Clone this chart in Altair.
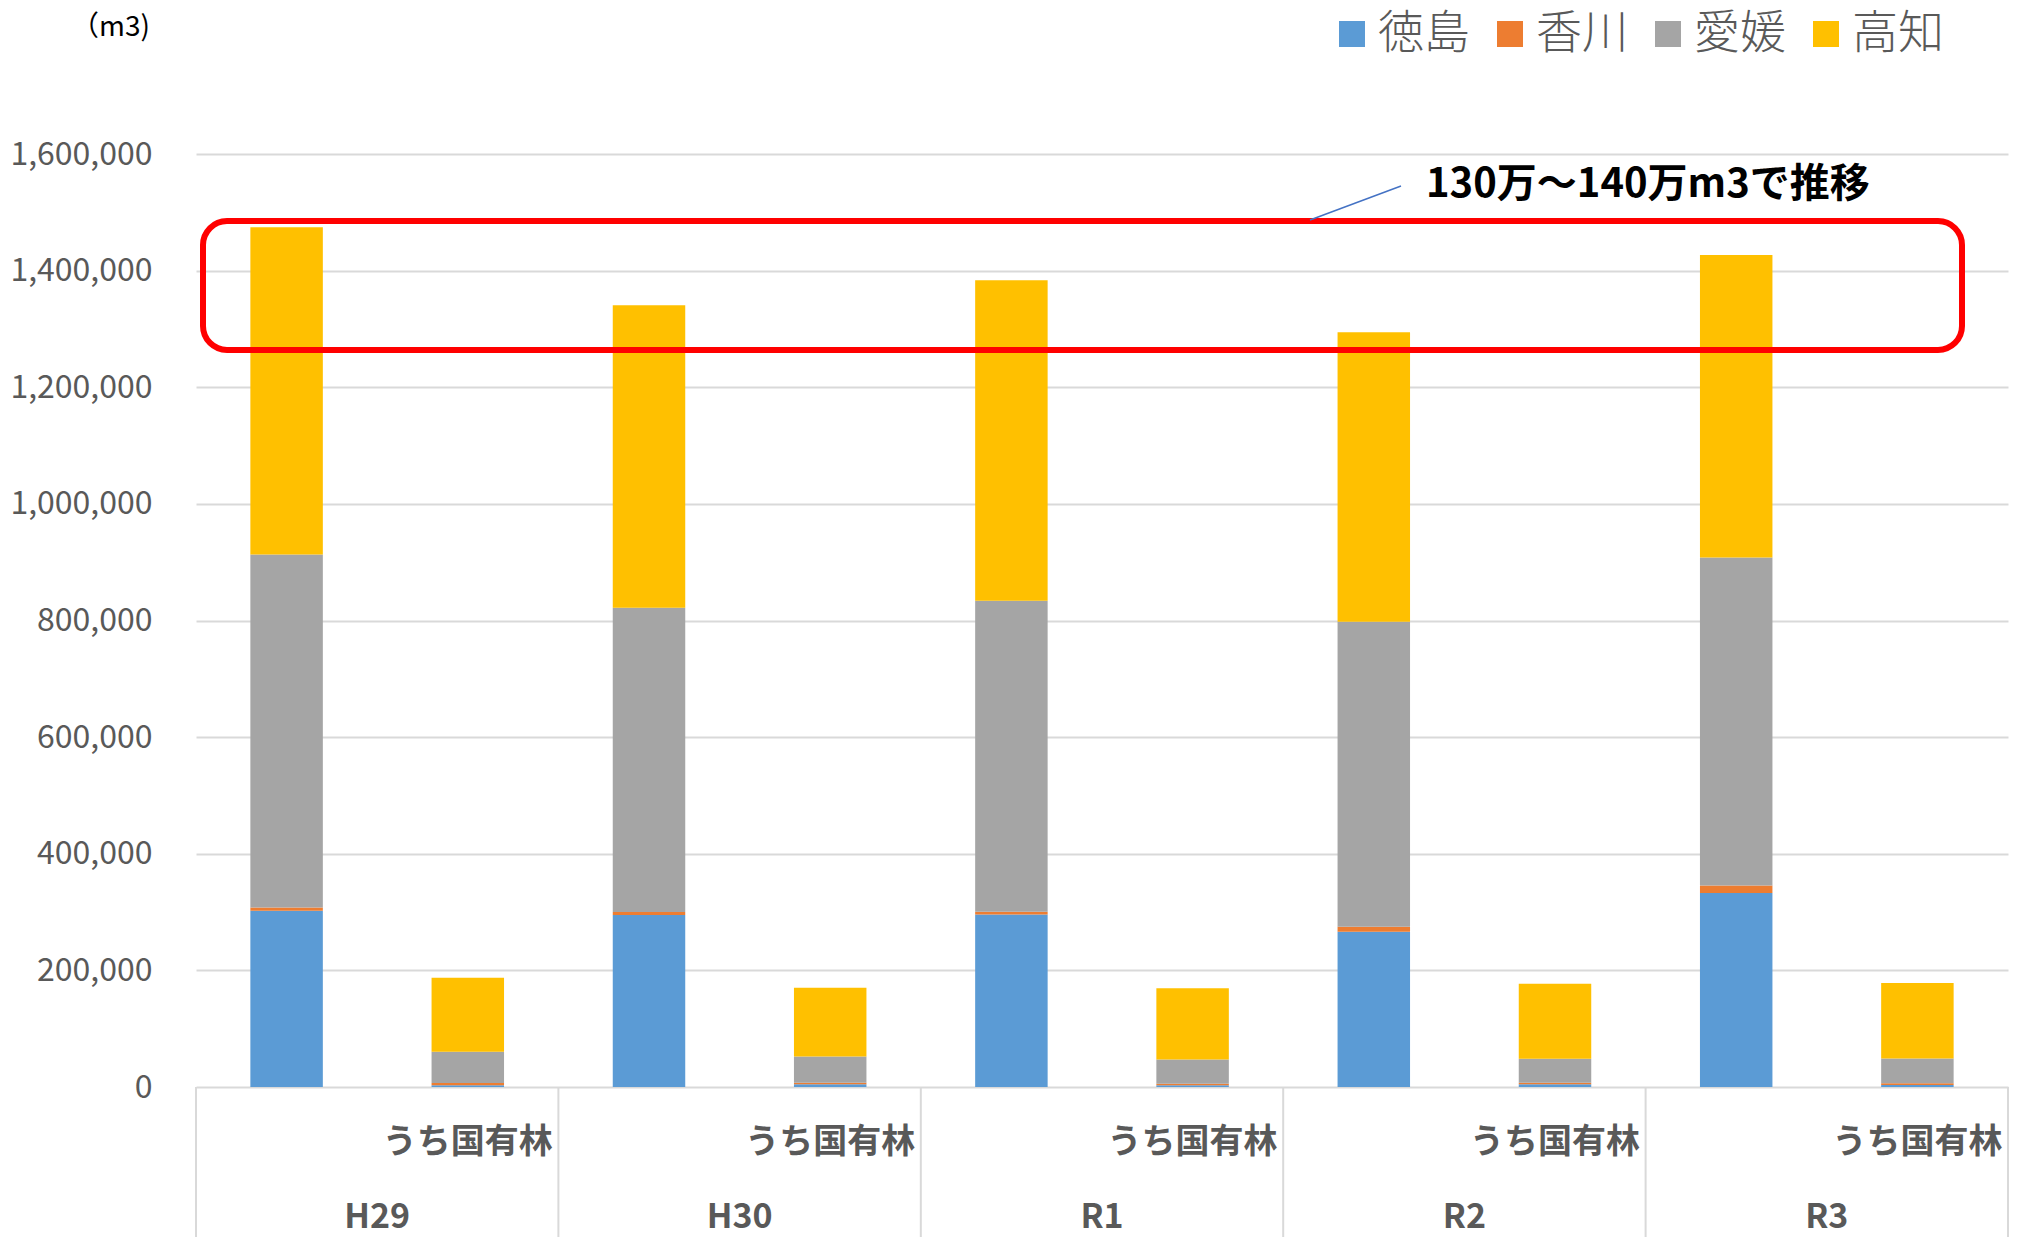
import altair as alt
import pandas as pd

# ---- data ----
years = ["H29", "H30", "R1", "R2", "R3"]
prefs = ["徳島", "香川", "愛媛", "高知"]
pref_colors = ["#5B9BD5", "#ED7D31", "#A5A5A5", "#FFC000"]
sub_label = "うち国有林"

# all forests (m3)
total_tokushima = [302300, 294800, 296000, 266100, 332800]
total_kagawa = [5700, 5200, 4600, 8600, 12600]
total_ehime = [605100, 521700, 533100, 523000, 562600]
total_kochi = [561200, 518900, 549700, 496600, 518900]
# of which national forests (m3)
nat_tokushima = [2900, 4600, 2900, 4600, 3400]
nat_kagawa = [4000, 2900, 2800, 2900, 2900]
nat_ehime = [53400, 44800, 41400, 40800, 42600]
nat_kochi = [127100, 117800, 122400, 128700, 129300]

y_ticks = [0, 200000, 400000, 600000, 800000, 1000000, 1200000, 1400000, 1600000]
unit_label = "（m3)"
note_text = "130万～140万m3で推移"

# ---- build tables ----
keys = []
for y in years:
    keys += [y + "_all", y + "_nat"]

rows = []
total_series = [total_tokushima, total_kagawa, total_ehime, total_kochi]
nat_series = [nat_tokushima, nat_kagawa, nat_ehime, nat_kochi]
for i, y in enumerate(years):
    for j, p in enumerate(prefs):
        rows.append({"key": y + "_all", "pref": p, "ord": j, "value": total_series[j][i]})
        rows.append({"key": y + "_nat", "pref": p, "ord": j, "value": nat_series[j][i]})
df = pd.DataFrame(rows)

W, H = 1812, 933
font = "Noto Sans CJK JP"
xscale = alt.Scale(domain=keys, paddingInner=0, paddingOuter=0)

bars = alt.Chart(df).mark_bar(width={"band": 0.4}).encode(
    x=alt.X("key:N", scale=xscale,
            axis=alt.Axis(labels=False, ticks=False, title=None, grid=False,
                          domain=True, domainColor="#d9d9d9", domainWidth=2)),
    y=alt.Y("sum(value):Q", stack="zero",
            scale=alt.Scale(domain=[0, 1600000], nice=False),
            axis=alt.Axis(values=y_ticks, format=",d", title=None, domain=False,
                          ticks=False, labelPadding=44, labelFontSize=32,
                          labelColor="#595959", labelFont=font,
                          gridColor="#d9d9d9", gridWidth=2)),
    color=alt.Color("pref:N", scale=alt.Scale(domain=prefs, range=pref_colors),
                    legend=alt.Legend(title=None, orient="none", legendX=1133, legendY=-143,
                                      direction="horizontal", symbolType="square",
                                      symbolSize=676, symbolStrokeWidth=0,
                                      labelFontSize=46, labelColor="#595959",
                                      labelFont=font, labelFontWeight=300,
                                      labelOffset=3, columnPadding=17, padding=0)),
    order=alt.Order("ord:Q", sort="ascending"),
)

# group dividers below the axis
first_df = pd.DataFrame({"key": [y + "_all" for y in years]})
last_df = pd.DataFrame({"key": [years[-1] + "_nat"]})
div_left = alt.Chart(first_df).mark_rule(color="#d9d9d9", strokeWidth=2).encode(
    x=alt.X("key:N", scale=xscale, bandPosition=0, axis=None),
    y=alt.value(H), y2=alt.value(H + 160),
)
div_right = alt.Chart(last_df).mark_rule(color="#d9d9d9", strokeWidth=2).encode(
    x=alt.X("key:N", scale=xscale, bandPosition=1, axis=None),
    y=alt.value(H), y2=alt.value(H + 160),
)

# category labels
sub_df = pd.DataFrame({"key": [y + "_nat" for y in years], "t": [sub_label] * len(years)})
sub_text = alt.Chart(sub_df).mark_text(
    fontSize=34, fontWeight="bold", color="#595959", font=font, baseline="middle", align="center"
).encode(
    x=alt.X("key:N", scale=xscale, axis=None),
    y=alt.value(H + 56),
    text="t:N",
)
grp_df = pd.DataFrame({"key": [y + "_all" for y in years], "t": years})
grp_text = alt.Chart(grp_df).mark_text(
    fontSize=34, fontWeight="bold", color="#595959", font=font, baseline="alphabetic", align="center"
).encode(
    x=alt.X("key:N", scale=xscale, bandPosition=1, axis=None),
    y=alt.value(H + 141),
    text="t:N",
)

# annotations
one = pd.DataFrame({"a": [0]})
frame = alt.Chart(one).mark_rect(
    filled=False, stroke="#FF0000", strokeWidth=6, cornerRadius=24
).encode(x=alt.value(7), x2=alt.value(1766), y=alt.value(67), y2=alt.value(196))

leader = alt.Chart(one).mark_rule(color="#4472C4", strokeWidth=1.5).encode(
    x=alt.value(1114), y=alt.value(66), x2=alt.value(1205), y2=alt.value(32)
)

note = alt.Chart(pd.DataFrame({"t": [note_text]})).mark_text(
    fontSize=40, fontWeight="bold", color="#000000", font=font, align="left", baseline="middle"
).encode(x=alt.value(1230), y=alt.value(31), text="t:N")

unit = alt.Chart(pd.DataFrame({"t": [unit_label]})).mark_text(
    fontSize=28, color="#000000", font=font, align="right", baseline="middle"
).encode(x=alt.value(-46), y=alt.value(-126), text="t:N")

chart = alt.layer(bars, div_left, div_right, sub_text, grp_text, frame, leader, note, unit).properties(
    width=W, height=H,
    autosize=alt.AutoSizeParams(type="none"),
    padding={"left": 196, "top": 154, "right": 10, "bottom": 150},
).configure(background="white").configure_view(stroke=None)

chart.save("out.html", embed_options={"renderer": "svg", "actions": False})
